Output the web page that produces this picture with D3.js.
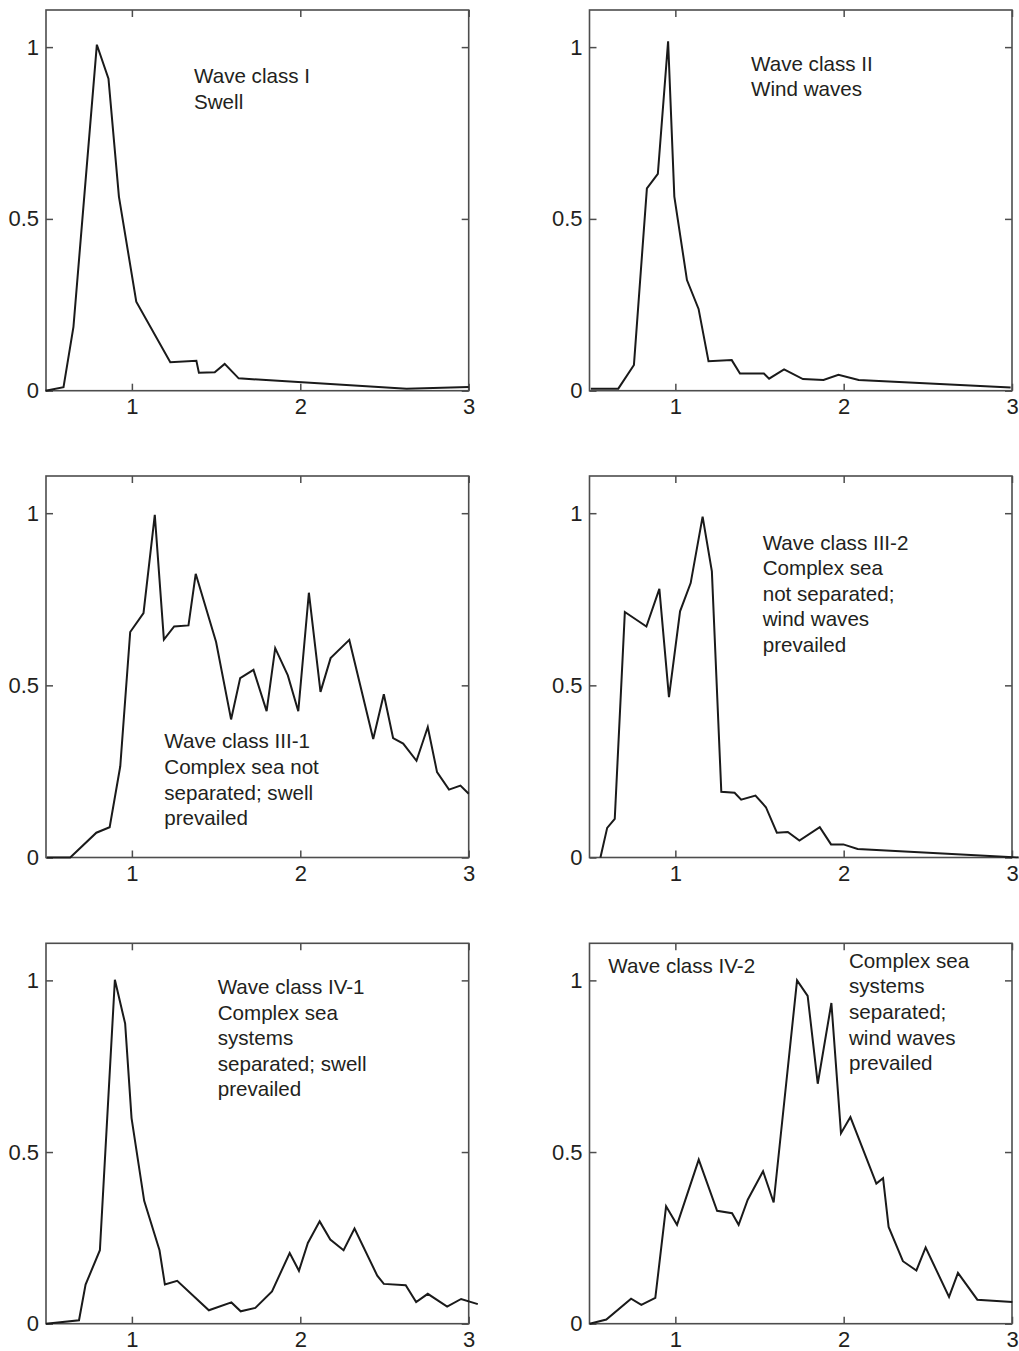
<!DOCTYPE html>
<html>
<head>
<meta charset="utf-8">
<script src="https://cdn.jsdelivr.net/npm/d3@7"></script>
<style>
  html, body { margin: 0; padding: 0; background: #fff; }
  svg { display: block; }
  text { font-family: "Liberation Sans", Arial, Helvetica, sans-serif; fill: #231f20; }
</style>
</head>
<body>
<svg id="chart" width="1019" height="1351"></svg>
<script>
// ---------- data ----------
const xTicks = [1, 2, 3];
const yTicks = [0, 0.5, 1];
const xDomain = [0.49, 3.0];
const yDomain = [0, 1.108];

const class1X = [0.487, 0.594, 0.653, 0.792, 0.861, 0.923, 1.026, 1.228, 1.383, 1.398, 1.492, 1.551, 1.634, 2.631, 3.0];
const class1Y = [0, 0.010, 0.186, 1.007, 0.908, 0.565, 0.259, 0.083, 0.087, 0.052, 0.054, 0.078, 0.036, 0.006, 0.011];

const class2X = [0.498, 0.661, 0.754, 0.831, 0.896, 0.957, 0.994, 1.069, 1.138, 1.197, 1.335, 1.384, 1.526, 1.557, 1.646, 1.758, 1.880, 1.969, 2.089, 2.992];
const class2Y = [0.006, 0.006, 0.075, 0.589, 0.631, 1.017, 0.565, 0.322, 0.238, 0.086, 0.089, 0.050, 0.050, 0.035, 0.062, 0.034, 0.031, 0.046, 0.031, 0.009];

const class31X = [0.496, 0.634, 0.789, 0.868, 0.931, 0.990, 1.069, 1.136, 1.190, 1.251, 1.336, 1.379, 1.500, 1.589, 1.643, 1.722, 1.800, 1.851, 1.926, 1.988, 2.051, 2.120, 2.180, 2.291, 2.433, 2.496, 2.551, 2.611, 2.690, 2.757, 2.812, 2.883, 2.951, 3.0];
const class31Y = [0, 0, 0.072, 0.088, 0.265, 0.655, 0.710, 0.995, 0.633, 0.671, 0.674, 0.824, 0.626, 0.401, 0.521, 0.545, 0.425, 0.608, 0.529, 0.425, 0.769, 0.481, 0.579, 0.632, 0.344, 0.474, 0.347, 0.331, 0.281, 0.379, 0.248, 0.197, 0.209, 0.185];

const class32X = [0.555, 0.595, 0.640, 0.700, 0.828, 0.905, 0.962, 1.028, 1.091, 1.162, 1.217, 1.273, 1.352, 1.391, 1.476, 1.538, 1.603, 1.668, 1.737, 1.858, 1.925, 1.998, 2.083, 3.04];
const class32Y = [0, 0.086, 0.112, 0.713, 0.671, 0.780, 0.466, 0.715, 0.797, 0.990, 0.831, 0.191, 0.188, 0.168, 0.180, 0.146, 0.072, 0.074, 0.049, 0.088, 0.038, 0.038, 0.025, 0];

const class41X = [0.49, 0.686, 0.725, 0.810, 0.899, 0.960, 0.998, 1.073, 1.164, 1.196, 1.269, 1.457, 1.591, 1.646, 1.733, 1.832, 1.937, 1.992, 2.045, 2.115, 2.178, 2.257, 2.322, 2.457, 2.496, 2.626, 2.688, 2.757, 2.872, 2.955, 3.054];
const class41Y = [0, 0.010, 0.114, 0.214, 1.002, 0.874, 0.599, 0.358, 0.214, 0.114, 0.125, 0.039, 0.062, 0.036, 0.046, 0.094, 0.206, 0.154, 0.235, 0.298, 0.245, 0.214, 0.277, 0.140, 0.116, 0.112, 0.063, 0.087, 0.050, 0.072, 0.057];

const class42X = [0.491, 0.590, 0.737, 0.798, 0.881, 0.945, 1.010, 1.139, 1.248, 1.337, 1.376, 1.430, 1.521, 1.584, 1.723, 1.786, 1.846, 1.927, 1.984, 2.040, 2.194, 2.234, 2.267, 2.352, 2.432, 2.487, 2.626, 2.679, 2.794, 3.002];
const class42Y = [0, 0.012, 0.073, 0.055, 0.075, 0.342, 0.288, 0.478, 0.329, 0.322, 0.288, 0.361, 0.444, 0.353, 1.000, 0.955, 0.699, 0.934, 0.555, 0.602, 0.408, 0.424, 0.282, 0.182, 0.155, 0.222, 0.078, 0.148, 0.070, 0.063];

const label1 = ["Wave class I", "Swell"];
const label2 = ["Wave class II", "Wind waves"];
const label31 = ["Wave class III-1", "Complex sea not", "separated; swell", "prevailed"];
const label32 = ["Wave class III-2", "Complex sea", "not separated;", "wind waves", "prevailed"];
const label41 = ["Wave class IV-1", "Complex sea", "systems", "separated; swell", "prevailed"];
const label42a = ["Wave class IV-2"];
const label42b = ["Complex sea", "systems", "separated;", "wind waves", "prevailed"];

// ---------- layout ----------
const cols = [{ left: 46, right: 468.7 }, { left: 589.5, right: 1012 }];
const rows = [{ top: 10, bottom: 390.7 }, { top: 476, bottom: 857.5 }, { top: 943.3, bottom: 1323.7 }];

const panels = [
  { c: 0, r: 0, xs: class1X, ys: class1Y, notes: [{ lines: label1, x: 194, y: 83.3 }] },
  { c: 1, r: 0, xs: class2X, ys: class2Y, notes: [{ lines: label2, x: 751, y: 70.5 }] },
  { c: 0, r: 1, xs: class31X, ys: class31Y, notes: [{ lines: label31, x: 164.3, y: 748.3 }] },
  { c: 1, r: 1, xs: class32X, ys: class32Y, notes: [{ lines: label32, x: 762.7, y: 549.5 }] },
  { c: 0, r: 2, xs: class41X, ys: class41Y, notes: [{ lines: label41, x: 217.7, y: 994 }] },
  { c: 1, r: 2, xs: class42X, ys: class42Y, notes: [{ lines: label42a, x: 608.3, y: 972.7 }, { lines: label42b, x: 849, y: 967.7 }] }
];

const svg = d3.select("#chart");
const lineH = 25.6;

panels.forEach(p => {
  const col = cols[p.c], row = rows[p.r];
  const x = d3.scaleLinear().domain(xDomain).range([col.left, col.right]);
  const y = d3.scaleLinear().domain(yDomain).range([row.bottom, row.top]);
  const g = svg.append("g");

  const axStyle = sel => {
    sel.select(".domain").remove();
    sel.selectAll(".tick line").attr("stroke", "#4d4d4d").attr("stroke-width", 1.5);
    sel.selectAll(".tick text").style("font-size", "22px").attr("fill", "#231f20");
  };
  g.append("g").attr("transform", `translate(0,${row.bottom})`)
    .call(d3.axisBottom(x).tickValues(xTicks).tickSize(-7).tickPadding(8).tickFormat(d3.format("d"))).call(axStyle);
  g.append("g").attr("transform", `translate(${col.left},0)`)
    .call(d3.axisLeft(y).tickValues(yTicks).tickSize(-7).tickPadding(7).tickFormat(d => d === 0.5 ? "0.5" : String(d))).call(axStyle);
  g.append("g").attr("transform", `translate(0,${row.top})`)
    .call(d3.axisTop(x).tickValues(xTicks).tickSize(-7).tickFormat("")).call(axStyle);
  g.append("g").attr("transform", `translate(${col.right},0)`)
    .call(d3.axisRight(y).tickValues(yTicks).tickSize(-7).tickFormat("")).call(axStyle);
  g.selectAll("g > g").attr("font-family", null);

  g.append("rect")
    .attr("x", col.left).attr("y", row.top)
    .attr("width", col.right - col.left).attr("height", row.bottom - row.top)
    .attr("fill", "none").attr("stroke", "#4d4d4d").attr("stroke-width", 1.6);

  const pts = p.xs.map((v, i) => [v, p.ys[i]]);
  g.append("path")
    .datum(pts)
    .attr("fill", "none")
    .attr("stroke", "#1a1a1a")
    .attr("stroke-width", 2)
    .attr("stroke-linejoin", "miter")
    .attr("d", d3.line().x(d => x(d[0])).y(d => y(d[1])));

  p.notes.forEach(n => {
    const t = g.append("text").attr("x", n.x).attr("y", n.y).style("font-size", "20.6px");
    n.lines.forEach((s, i) => {
      t.append("tspan").attr("x", n.x).attr("y", n.y + i * lineH).text(s);
    });
  });
});
</script>
</body>
</html>
